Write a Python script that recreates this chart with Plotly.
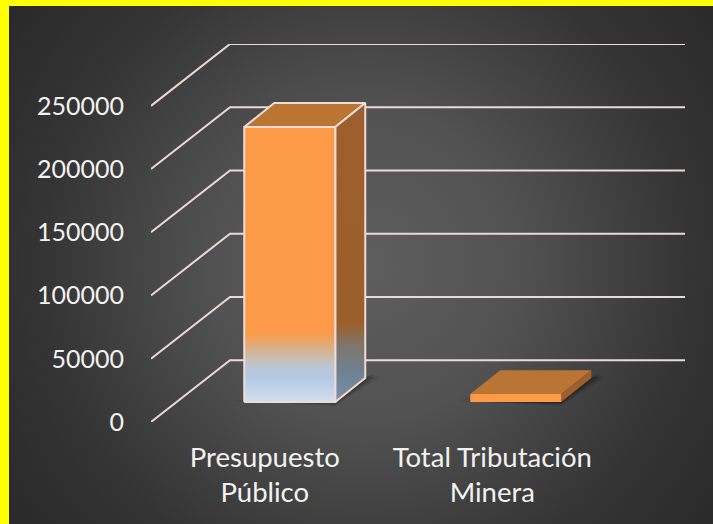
import base64
import plotly.graph_objects as go

# --- data ---
categories = ["Presupuesto<br>Público", "Total Tributación<br>Minera"]
values = [217500, 6300]
y_ticks = [0, 50000, 100000, 150000, 200000, 250000]

# --- oblique projection (axis units) ---
W, H = 713, 524
L, R, T, B = 151, 28, 44, 102
PX_X = 227.5          # pixels per category
PX_Y = 63.4 / 50000   # pixels per value unit
DX = 79 / PX_X        # wall depth on x
DY = 62 / PX_Y        # wall depth on y
BAR_W = 91 / PX_X
BAR_OX = 25 / PX_X    # front face offset inside the floor
BAR_OY = 20 / PX_Y
BAR_DX = 30 / PX_X    # bar depth
BAR_DY = 24 / PX_Y
BAR_STEP = 226 / PX_X

GRID = "#ecd9d4"
FONT = "Lato"

bg_svg = f"""<svg xmlns='http://www.w3.org/2000/svg' width='{W}' height='{H}'>
<defs><radialGradient id='g' gradientUnits='userSpaceOnUse' cx='362' cy='262' r='440'>
<stop offset='0' stop-color='#5e5e5e'/><stop offset='0.35' stop-color='#525252'/>
<stop offset='0.75' stop-color='#343434'/><stop offset='1' stop-color='#2a2a2a'/></radialGradient></defs>
<rect width='{W}' height='{H}' fill='url(#g)'/></svg>"""
bg_uri = "data:image/svg+xml;base64," + base64.b64encode(bg_svg.encode()).decode()

fig = go.Figure()

def poly(xs, ys, **kw):
    fig.add_trace(go.Scatter(x=xs + xs[:1], y=ys + ys[:1], mode="lines", fill="toself",
                             hoverinfo="skip", showlegend=False, **kw))

# walls grid
for t in y_ticks:
    fig.add_trace(go.Scatter(
        x=[-0.5, -0.5 + DX, 1.5 + DX], y=[t, t + DY, t + DY], mode="lines",
        line=dict(color=GRID, width=2), hoverinfo="skip", showlegend=False))

FRONT_SCALE = [[0, "#d2deef"], [0.09, "#b3c9e3"], [0.13, "#bcc6d4"],
               [0.2, "#dcae83"], [0.25, "#fc9a49"], [1, "#fd9a48"]]
SIDE_SCALE = [[0, "#7c8fa3"], [0.09, "#6f8296"], [0.14, "#757c80"], [0.19, "#80766c"],
              [0.26, "#9a5f2c"], [1, "#9d5f2d"]]

for i, v in enumerate(values):
    x0 = i * BAR_STEP + BAR_OX - BAR_W / 2
    x1 = x0 + BAR_W
    y0 = BAR_OY
    y1 = y0 + v
    xb0, xb1 = x0 + BAR_DX, x1 + BAR_DX
    yb0, yb1 = y0 + BAR_DY, y1 + BAR_DY
    tall = v > 50000

    # soft shadow on the floor
    for grow, alpha in [(1.0, 0.10), (0.6, 0.16), (0.25, 0.22)]:
        ex = 14 * grow / PX_X
        ey = 4 * grow / PX_Y
        poly([x0 - ex, x1, xb1 + ex, xb1 + ex * 0.4, x1], [y0 + ey * .4, y0 - ey, yb0 + ey * .2, yb0 + ey, y0 + ey],
             line=dict(width=0), fillcolor=f"rgba(0,0,0,{alpha})")

    edge = dict(color="#f0dcd6", width=2) if tall else dict(width=0)
    # top
    poly([x0, x1, xb1, xb0], [y1, y1, yb1, yb1], fillcolor="#ba7434", line=edge)
    # side
    if tall:
        poly([x1, xb1, xb1, x1], [y0, yb0, yb1, y1], line=edge,
             fillcolor="#9d5f2d",
             fillgradient=dict(type="vertical", colorscale=SIDE_SCALE))
        poly([x0, x1, x1, x0], [y0, y0, y1, y1], line=edge,
             fillcolor="#fd9a48",
             fillgradient=dict(type="vertical", colorscale=FRONT_SCALE))
    else:
        poly([x1, xb1, xb1, x1], [y0, yb0, yb1, y1], line=edge, fillcolor="#9d5f2d")
        poly([x0, x1, x1, x0], [y0, y0, y1, y1], line=edge, fillcolor="#fd9a48")

fig.update_layout(
    width=W, height=H, autosize=False,
    margin=dict(l=L, r=R, t=T, b=B, pad=0),
    paper_bgcolor="#ffff00", plot_bgcolor="rgba(0,0,0,0)",
    font=dict(family=FONT, size=24, color="#f2f2f2"),
    showlegend=False,
    images=[dict(source=bg_uri, xref="paper", yref="paper",
                 x=(9 - L) / (W - L - R), y=(H - 6 - B) / (H - T - B),
                 sizex=(W - 9) / (W - L - R), sizey=(H - 6) / (H - T - B),
                 xanchor="left", yanchor="top", sizing="stretch", layer="below")],
    xaxis=dict(range=[-0.5, 1.5 + DX], tickmode="array", tickvals=[0, 1], ticktext=categories,
               showgrid=False, zeroline=False, showline=False, ticks="", ticklabelstandoff=16,
               tickfont=dict(family=FONT, size=27.5, color="#f2f2f2")),
    yaxis=dict(range=[0, 250000 + DY], tickmode="array", tickvals=y_ticks,
               ticktext=[str(t) for t in y_ticks],
               showgrid=False, zeroline=False, showline=False, ticks="", ticklabelstandoff=26,
               tickfont=dict(family=FONT, size=25, color="#f2f2f2")),
)

fig.write_html("out.html", config=dict(displayModeBar=False),
               post_script="document.body.style.margin='0';document.documentElement.style.overflow='hidden';window.dispatchEvent(new Event('resize'));")
